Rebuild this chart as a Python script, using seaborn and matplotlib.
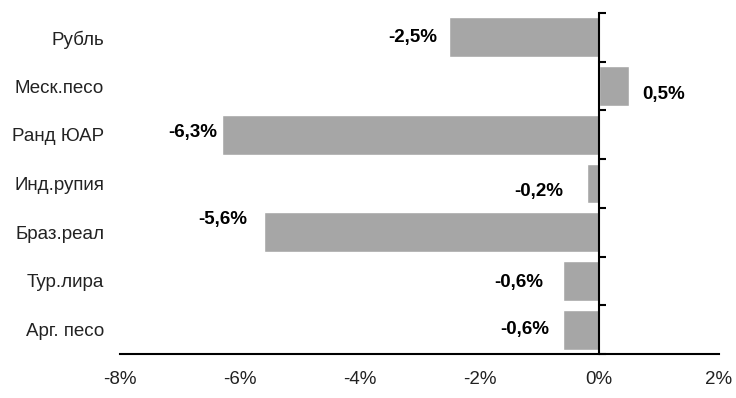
import matplotlib
matplotlib.use("Agg")
import matplotlib.pyplot as plt
import seaborn as sns
from matplotlib.ticker import FixedLocator, FuncFormatter

# Данные
валюты = ["Рубль", "Меск.песо", "Ранд ЮАР", "Инд.рупия", "Браз.реал", "Тур.лира", "Арг. песо"]
изменение = [-2.5, 0.5, -6.3, -0.2, -5.6, -0.6, -0.6]
подписи = ["-2,5%", "0,5%", "-6,3%", "-0,2%", "-5,6%", "-0,6%", "-0,6%"]

# смещения подписей от конца столбца (пиксели), как в оригинале
сдвиг_x = [-12, 13, -5, -24, -17, -20, -14]
сдвиг_y = [0, -8, 2, -8, 13, -2, 0]

sns.set_style("white")
plt.rcParams["font.family"] = ["Liberation Sans", "DejaVu Sans"]

fig = plt.figure(figsize=(7.36, 3.98), dpi=100)
ax = fig.add_axes([120 / 736, 1 - 354 / 398, 599 / 736, 341 / 398])

sns.barplot(x=изменение, y=валюты, orient="h", color="#a6a6a6",
            saturation=1, width=0.82, ax=ax)

ax.set_xlim(-8, 2)
ax.set_ylim(len(валюты) - 0.5, -0.5)
ax.set_xticks(range(-8, 3, 2))
ax.xaxis.set_major_formatter(FuncFormatter(lambda v, p: f"{int(v)}%"))
ax.tick_params(axis="x", direction="in", length=5, width=1.5, color="black",
               labelsize=13.5, pad=12, labelcolor="#222222")

# вертикальная ось на нуле (правая ось)
ax.spines["top"].set_visible(False)
ax.spines["left"].set_visible(False)
ax.spines["right"].set_position(("data", 0))
ax.spines["right"].set_linewidth(1.5)
ax.spines["bottom"].set_linewidth(1.5)
ax.spines["right"].set_color("black")
ax.spines["bottom"].set_color("black")

ax.yaxis.set_minor_locator(FixedLocator([i - 0.5 for i in range(len(валюты) + 1)]))
ax.tick_params(axis="y", which="major", left=False, right=False, labelsize=13.5,
               pad=8, labelcolor="#222222")
ax.tick_params(axis="y", which="minor", left=False, right=True, direction="out",
               length=5, width=1.5, color="black")
ax.set_xlabel("")
ax.set_ylabel("")

for i, (v, t) in enumerate(zip(изменение, подписи)):
    ax.annotate(t, xy=(v, i), xytext=(сдвиг_x[i], сдвиг_y[i]),
                textcoords="offset pixels", ha="left" if v > 0 else "right",
                va="center", fontsize=13.5, fontweight="bold", color="black")

fig.savefig("out.png", dpi=100)
